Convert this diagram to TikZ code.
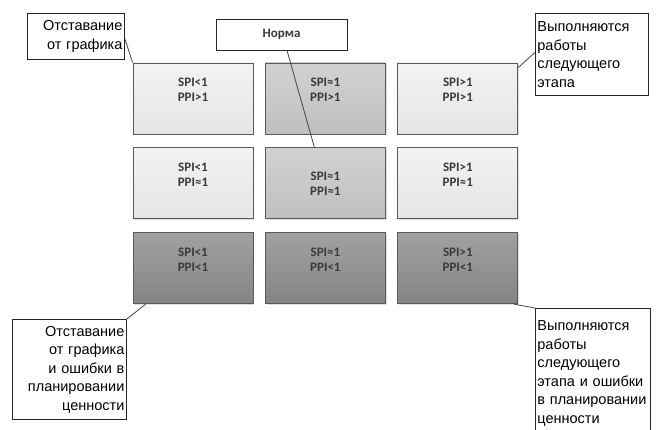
\documentclass[tikz,border=0pt]{standalone}
\usepackage{fontspec}
\setmainfont{Liberation Sans}
\newfontfamily\calfont{Carlito}
\usepackage{tikz}
\usetikzlibrary{positioning,shadows}

\definecolor{cellline}{HTML}{5A5A5A}
\definecolor{celltext}{HTML}{3A3A3A}
\definecolor{calloutline}{HTML}{454545}

\begin{document}
\begin{tikzpicture}[
  x=1pt, y=-1pt,
  node distance=13pt and 11.5pt,
  cell/.style={draw=cellline, line width=0.9pt, minimum width=120pt, minimum height=71pt,
               align=center, text=celltext, inner sep=0pt,
               font=\calfont\bfseries\fontsize{13}{15}\selectfont,
               drop shadow={opacity=0.25, shadow xshift=1.2pt, shadow yshift=-1.2pt}},
  light/.style={cell, top color=white!95!black, bottom color=white!90!black},
  mid/.style={cell, top color=white!82!black, bottom color=white!75!black},
  dark/.style={cell, top color=white!63!black, bottom color=white!52!black},
  callout/.style={draw=black!85, line width=0.8pt, fill=white, anchor=north west,
                  inner xsep=1.5pt, inner ysep=2pt, font=\fontsize{14.5}{18.5}\selectfont},
  tag/.style={callout, anchor=center, minimum width=131pt, minimum height=31pt,
              font=\calfont\bfseries\fontsize{13}{15}\selectfont, text=celltext},
  link/.style={draw=calloutline, line width=0.8pt}
]
\path[use as bounding box, fill=white] (0,0) rectangle (658,430);

% 3x3 grid: SPI across, PPI down
\node[light] (c11) at (193,98.5) {SPI<1\\PPI>1\\[3pt]};
\node[mid,   right=of c11] (c12) {SPI≈1\\PPI>1\\[3pt]};
\node[light, right=of c12] (c13) {SPI>1\\PPI>1\\[3pt]};
\node[light, below=of c11] (c21) {SPI<1\\PPI≈1\\[3pt]};
\node[mid,   below=of c12] (c22) {SPI≈1\\PPI≈1};
\node[light, below=of c13] (c23) {SPI>1\\PPI≈1\\[3pt]};
\node[dark,  below=of c21] (c31) {SPI<1\\PPI<1\\[3pt]};
\node[dark,  below=of c22] (c32) {SPI≈1\\PPI<1\\[3pt]};
\node[dark,  below=of c23] (c33) {SPI>1\\PPI<1\\[3pt]};

% callouts
\node[tag] (norm) at (281.5,34.5) {Норма};
\node[callout, minimum width=97pt, minimum height=46pt, text width=93pt, align=right]
  (late) at (27,13) {Отставание\\от графика};
\node[callout, minimum width=113pt, minimum height=82pt, text width=109pt, align=left]
  (ahead) at (535,13) {Выполняются\\работы\\следующего\\этапа};
\node[callout, minimum width=114pt, minimum height=100pt, text width=110pt, align=right]
  (lateerr) at (12,319) {Отставание\\от графика\\и ошибки в\\планировании\\ценности};
\node[callout, minimum width=115pt, minimum height=130pt, text width=111pt, align=left]
  (aheaderr) at (535,308) {Выполняются\\работы\\следующего\\этапа и ошибки\\в планировании\\ценности};

\draw[link] ([xshift=5.5pt]norm.south) -- ([xshift=-11pt]c22.north);
\draw[link] ([yshift=-2pt]late.east) -- (c11.north west);
\draw[link] ([yshift=2pt]ahead.west) -- ([yshift=-5pt]c13.north east);
\draw[link] (lateerr.north east) -- ([xshift=13pt]c31.south west);
\draw[link] (aheaderr.north west) -- ([xshift=-4pt]c33.south east);
\end{tikzpicture}
\end{document}
